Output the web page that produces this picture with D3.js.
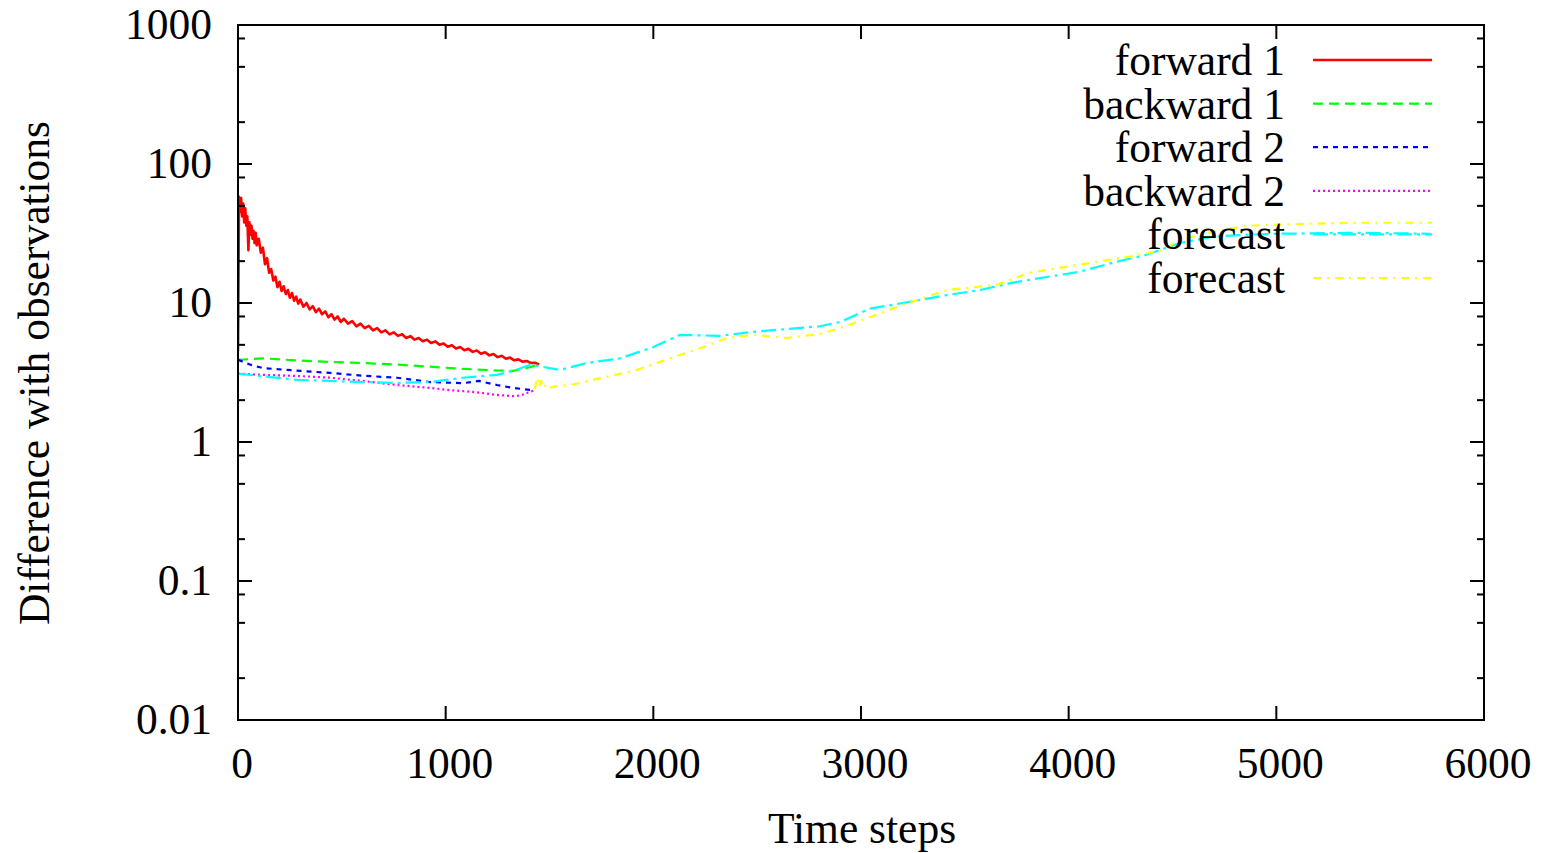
<!DOCTYPE html>
<html>
<head>
<meta charset="utf-8">
<script src="https://cdn.jsdelivr.net/npm/d3@7"></script>
<style>
  body { margin: 0; background: #fff; }
  text { font-family: "Liberation Serif", "Times New Roman", serif; fill: #000; }
</style>
</head>
<body>
<svg id="chart" width="1541" height="853"></svg>
<script>
// tick values and labels
var xTicks = [0, 1000, 2000, 3000, 4000, 5000, 6000]
var yTicks = [0.01, 0.1, 1, 10, 100, 1000]
var yTickLabels = ["0.01", "0.1", "1", "10", "100", "1000"]
var yMinorSteps = [2, 5, 8]

// forward 1 (red) - noisy decay
var fwd1T = [0, 5, 10, 15, 20, 25, 30, 35, 40, 45, 50, 55, 60, 65, 70, 75, 80, 85, 90, 100, 110, 120, 130, 140, 150, 160, 170, 180, 190, 200, 210, 220, 230, 240, 250, 260, 270, 280, 290, 300, 315, 330, 345, 360, 375, 390, 405, 420, 435, 450, 465, 480, 495, 510, 530, 550, 570, 590, 610, 630, 650, 670, 690, 710, 730, 750, 770, 790, 810, 830, 850, 870, 890, 910, 930, 950, 970, 990, 1010, 1030, 1050, 1070, 1090, 1110, 1130, 1150, 1170, 1190, 1210, 1230, 1250, 1270, 1290, 1310, 1330, 1350, 1370, 1390, 1410, 1430, 1450]
var fwd1V = [4.5, 58, 45, 57, 42, 52, 38, 48, 36, 42, 24, 38, 31, 36, 29, 33, 27, 32, 26, 29, 23, 25, 19, 21, 16.5, 17.5, 14.5, 15.5, 13, 14.2, 12.2, 13.2, 11.6, 12.4, 10.9, 11.8, 10.4, 11.1, 9.9, 10.6, 9.4, 10.0, 9.0, 9.5, 8.6, 9.1, 8.3, 8.7, 7.9, 8.3, 7.6, 8.0, 7.3, 7.7, 7.1, 7.4, 6.8, 7.1, 6.6, 6.85, 6.35, 6.6, 6.15, 6.35, 5.95, 6.15, 5.8, 5.95, 5.6, 5.78, 5.45, 5.6, 5.3, 5.45, 5.15, 5.3, 5.0, 5.12, 4.85, 4.97, 4.7, 4.82, 4.57, 4.68, 4.45, 4.55, 4.32, 4.42, 4.2, 4.3, 4.08, 4.17, 3.97, 4.05, 3.87, 3.93, 3.78, 3.83, 3.7, 3.72, 3.62]

// backward 1 (green)
var bwd1T = [0, 120, 300, 443, 600, 766, 925, 1083, 1250, 1324, 1406, 1454]
var bwd1V = [3.9, 4.0, 3.85, 3.77, 3.7, 3.6, 3.48, 3.36, 3.27, 3.25, 3.45, 3.65]

// forward 2 (blue)
var fwd2T = [0, 60, 120, 300, 443, 600, 766, 925, 1083, 1160, 1247, 1324, 1406, 1430]
var fwd2V = [3.9, 3.6, 3.4, 3.25, 3.14, 3.0, 2.9, 2.7, 2.65, 2.75, 2.57, 2.45, 2.37, 2.4]

// backward 2 (magenta)
var bwd2T = [0, 120, 300, 443, 600, 766, 925, 1006, 1150, 1247, 1324, 1360, 1406, 1430]
var bwd2V = [3.1, 3.04, 2.98, 2.9, 2.75, 2.57, 2.45, 2.37, 2.28, 2.18, 2.14, 2.16, 2.29, 2.37]

// forecast (cyan)
var fc1T = [0, 284, 602, 766, 925, 1083, 1247, 1340, 1406, 1454, 1550, 1680, 1839, 1998, 2128, 2321, 2480, 2643, 2802, 2899, 3043, 3202, 3414, 3573, 3732, 3813, 4054, 4213, 4377, 4536, 4695, 4858, 5017, 5402, 5740]
var fc1V = [3.1, 2.8, 2.7, 2.66, 2.7, 2.9, 3.04, 3.3, 3.6, 3.5, 3.3, 3.7, 4.0, 4.8, 5.9, 5.8, 6.2, 6.5, 6.8, 7.3, 9.1, 10.0, 11.4, 12.4, 14.0, 14.7, 16.8, 19.5, 22.3, 27, 30, 31, 31.5, 32, 31.5]

// forecast (yellow)
var fc2T = [1430, 1440, 1450, 1460, 1470, 1485, 1500, 1517, 1599, 1757, 1921, 2080, 2239, 2354, 2480, 2643, 2802, 2899, 3043, 3202, 3414, 3654, 3813, 4054, 4295, 4454, 4536, 4695, 4858, 5099, 5402, 5749]
var fc2V = [2.4, 2.9, 2.5, 2.75, 2.45, 2.6, 2.45, 2.5, 2.57, 2.9, 3.3, 4.0, 4.8, 5.6, 5.9, 5.6, 6.0, 6.6, 7.9, 9.7, 12.4, 13.5, 16.5, 18.9, 21.6, 24, 28.5, 32.5, 36, 37, 37.8, 37.8]

var seriesNames = ["forward 1", "backward 1", "forward 2", "backward 2", "forecast", "forecast"]
var seriesT = [fwd1T, bwd1T, fwd2T, bwd2T, fc1T, fc2T]
var seriesV = [fwd1V, bwd1V, fwd2V, bwd2V, fc1V, fc2V]
var seriesColors = ["#ff0000", "#00ff00", "#0000ff", "#ff00ff", "#00ffff", "#ffff00"]
var seriesDash = [null, "10,6", "5,5", "2,3", "15,5,3,5", "8,6,2,6"]
var seriesWidth = [2.6, 2.2, 2.2, 2.2, 2.2, 2.2]

// plot frame (note: "top" is reserved on window, so use prefixed names)
var plotL = 238, plotR = 1484, plotT = 25, plotB = 720
var fontSize = "43.5px"

var svg = d3.select("#chart")

var x = d3.scaleLinear().domain([0, 6000]).range([plotL, plotR])
var y = d3.scaleLog().domain([0.01, 1000]).range([plotB, plotT])

// clip for the curves
svg.append("defs").append("clipPath").attr("id", "plotclip")
  .append("rect")
    .attr("x", plotL).attr("y", plotT)
    .attr("width", plotR - plotL).attr("height", plotB - plotT)

var line = d3.line()
  .x(function(d){ return x(d[0]) })
  .y(function(d){ return y(d[1]) })

var curves = svg.append("g").attr("clip-path", "url(#plotclip)")
for (var i = 0; i < seriesNames.length; i++) {
  var pts = seriesT[i].map(function(t, j){ return [t, seriesV[i][j]] })
  curves.append("path")
    .attr("d", line(pts))
    .attr("fill", "none")
    .attr("stroke", seriesColors[i])
    .attr("stroke-width", seriesWidth[i])
    .attr("stroke-dasharray", seriesDash[i])
    .attr("stroke-linejoin", "round")
}

// ticks
var ticks = svg.append("g").attr("stroke", "#000").attr("stroke-width", 2)
xTicks.forEach(function(t){
  ticks.append("line").attr("x1", x(t)).attr("x2", x(t)).attr("y1", plotB).attr("y2", plotB - 14)
  ticks.append("line").attr("x1", x(t)).attr("x2", x(t)).attr("y1", plotT).attr("y2", plotT + 14)
})
yTicks.forEach(function(t, k){
  ticks.append("line").attr("x1", plotL).attr("x2", plotL + 14).attr("y1", y(t)).attr("y2", y(t))
  ticks.append("line").attr("x1", plotR).attr("x2", plotR - 14).attr("y1", y(t)).attr("y2", y(t))
  if (k < yTicks.length - 1) {
    yMinorSteps.forEach(function(m){
      var v = t * m
      ticks.append("line").attr("x1", plotL).attr("x2", plotL + 7).attr("y1", y(v)).attr("y2", y(v))
      ticks.append("line").attr("x1", plotR).attr("x2", plotR - 7).attr("y1", y(v)).attr("y2", y(v))
    })
  }
})

// frame
svg.append("rect")
  .attr("x", plotL).attr("y", plotT)
  .attr("width", plotR - plotL).attr("height", plotB - plotT)
  .attr("fill", "none").attr("stroke", "#000").attr("stroke-width", 2)

// tick labels
svg.selectAll("text.xlab").data(xTicks).enter().append("text")
  .attr("class", "xlab")
  .attr("x", function(d){ return x(d) + 4 })
  .attr("y", 778)
  .attr("text-anchor", "middle")
  .style("font-size", fontSize)
  .text(function(d){ return d })

svg.selectAll("text.ylab").data(yTicks).enter().append("text")
  .attr("class", "ylab")
  .attr("x", 212)
  .attr("y", function(d){ return y(d) + 14 })
  .attr("text-anchor", "end")
  .style("font-size", fontSize)
  .text(function(d, k){ return yTickLabels[k] })

// axis titles
svg.append("text")
  .attr("x", 862).attr("y", 843)
  .attr("text-anchor", "middle")
  .style("font-size", fontSize)
  .text("Time steps")

svg.append("text")
  .attr("transform", "translate(49,373) rotate(-90)")
  .attr("text-anchor", "middle")
  .style("font-size", fontSize)
  .text("Difference with observations")

// legend
var legend = svg.append("g")
seriesNames.forEach(function(name, i){
  var ly = 60 + i * 43.6
  legend.append("text")
    .attr("x", 1285).attr("y", ly + 15)
    .attr("text-anchor", "end")
    .style("font-size", fontSize)
    .text(name)
  legend.append("line")
    .attr("x1", 1313).attr("x2", 1432)
    .attr("y1", ly).attr("y2", ly)
    .attr("stroke", seriesColors[i])
    .attr("stroke-width", seriesWidth[i])
    .attr("stroke-dasharray", seriesDash[i])
})
</script>
</body>
</html>
